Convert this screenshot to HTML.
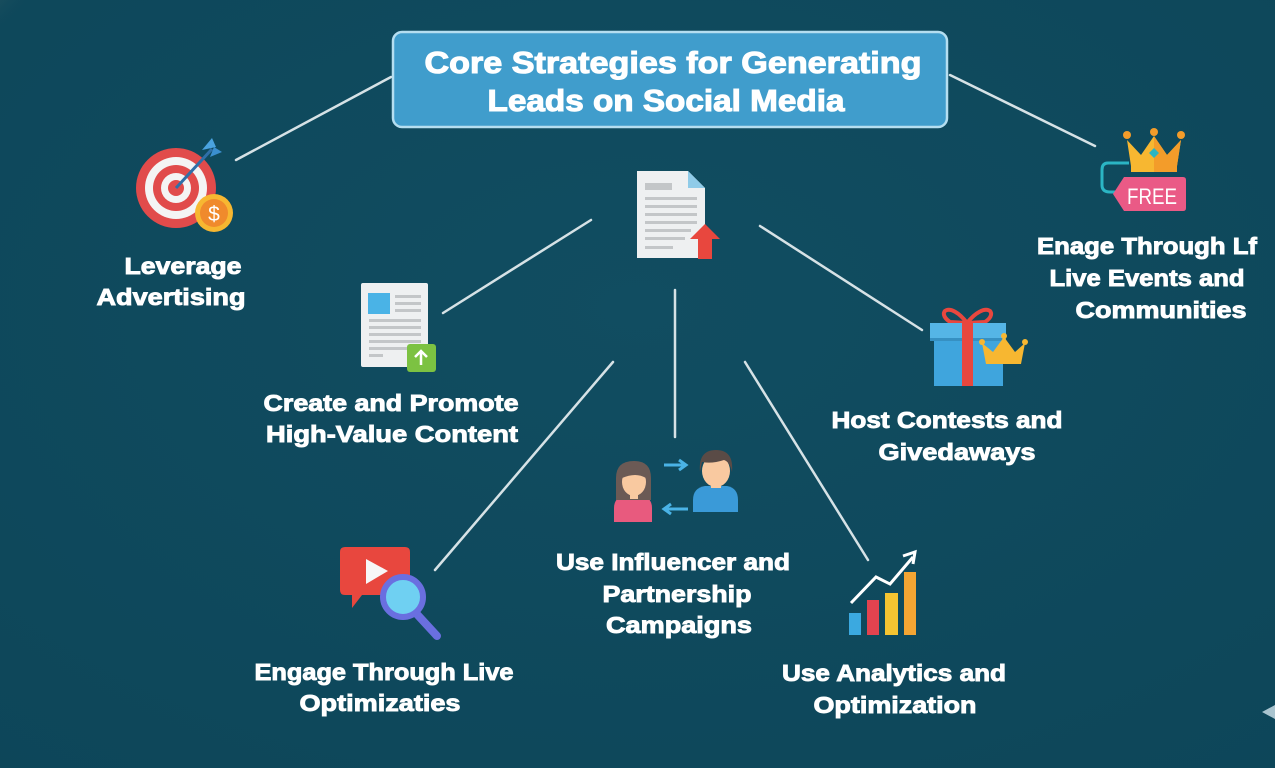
<!DOCTYPE html>
<html><head><meta charset="utf-8"><style>
html,body{margin:0;padding:0;background:#0f4a5e;}
svg{display:block;}
text{font-family:"Liberation Sans",sans-serif;font-weight:bold;fill:#ffffff;stroke:#ffffff;stroke-width:0.9;paint-order:stroke;}
text.thin{stroke:none;}
</style></head><body>
<svg width="1275" height="768" viewBox="0 0 1275 768" xmlns="http://www.w3.org/2000/svg">
<defs>
<radialGradient id="glow" cx="0" cy="0" r="1">
<stop offset="0" stop-color="#c9a27a" stop-opacity="0.9"/>
<stop offset="0.5" stop-color="#6b7a70" stop-opacity="0.3"/>
<stop offset="1" stop-color="#0f4a5e" stop-opacity="0"/>
</radialGradient>
<radialGradient id="bg" cx="0.5" cy="0.4" r="0.8">
<stop offset="0" stop-color="#114d61"/>
<stop offset="1" stop-color="#0d4659"/>
</radialGradient>
</defs>
<rect width="1275" height="768" fill="url(#bg)"/>
<circle cx="0" cy="0" r="45" fill="url(#glow)"/>
<polygon points="1262,712 1275,705 1275,719" fill="#a9c4cf"/>

<!-- connectors -->
<g stroke="#d6e2e6" stroke-width="2.5" stroke-linecap="round" fill="none">
<line x1="236" y1="160" x2="391" y2="77"/>
<line x1="950" y1="75" x2="1095" y2="146"/>
<line x1="443" y1="313" x2="591" y2="220"/>
<line x1="760" y1="226" x2="922" y2="330"/>
<line x1="675" y1="290" x2="675" y2="437"/>
<line x1="435" y1="570" x2="613" y2="362"/>
<line x1="745" y1="362" x2="868" y2="560"/>
</g>

<!-- title -->
<rect x="393" y="32" width="554" height="95" rx="9" fill="#409dcc" stroke="#b5def0" stroke-width="2.5"/>
<text x="673" y="73" font-size="31" text-anchor="middle" textLength="497" lengthAdjust="spacingAndGlyphs" style="stroke-width:1.1">Core Strategies for Generating</text>
<text x="666" y="111" font-size="31" text-anchor="middle" textLength="357" lengthAdjust="spacingAndGlyphs" style="stroke-width:1.1">Leads on Social Media</text>

<!-- target icon -->
<g>
<circle cx="176" cy="188" r="40" fill="#e14b4b"/>
<circle cx="176" cy="188" r="31" fill="#f4f4f4"/>
<circle cx="176" cy="188" r="23" fill="#e14b4b"/>
<circle cx="176" cy="188" r="15" fill="#f4f4f4"/>
<circle cx="176" cy="188" r="8" fill="#e14b4b"/>
<line x1="176" y1="188" x2="212" y2="149" stroke="#2f6fa8" stroke-width="3"/>
<polygon points="202,150 212,138 216,147" fill="#4aa3df"/>
<polygon points="210,157 222,152 214,147" fill="#3b8fcf"/>
<circle cx="214" cy="213" r="19" fill="#f7b731"/>
<circle cx="214" cy="213" r="14" fill="#f08a2c"/>
<text class="thin" x="214" y="221" font-size="21" text-anchor="middle" fill="#fff3d6" style="font-weight:normal">$</text>
</g>
<text x="183" y="274" font-size="23" text-anchor="middle" textLength="117" lengthAdjust="spacingAndGlyphs">Leverage</text>
<text x="171" y="305" font-size="23" text-anchor="middle" textLength="149" lengthAdjust="spacingAndGlyphs">Advertising</text>

<!-- crown FREE icon -->
<g>
<path d="M1127,140 L1141,155 L1154,136 L1167,155 L1181,140 L1177,166 L1131,166 Z" fill="#f7b731"/>
<path d="M1154,136 L1167,155 L1181,140 L1177,166 L1154,166 Z" fill="#f39c2a"/>
<circle cx="1127" cy="135" r="4" fill="#f39c2a"/>
<circle cx="1154" cy="132" r="4" fill="#f39c2a"/>
<circle cx="1181" cy="135" r="4" fill="#f39c2a"/>
<rect x="1131" y="159" width="46" height="13" fill="#f7b731"/>
<rect x="1154" y="159" width="23" height="13" fill="#f39c2a"/>
<polygon points="1154,148 1159,153 1154,158 1149,153" fill="#2bb5c4"/>
<path d="M1129,163 L1108,163 Q1102,163 1102,170 L1102,185 Q1102,192 1110,192 L1118,192" stroke="#2bb5c4" stroke-width="3" fill="none"/>
<path d="M1124,177 L1183,177 Q1186,177 1186,180 L1186,208 Q1186,211 1183,211 L1124,211 L1113,194 Z" fill="#ea5a86"/>
<text class="thin" x="1152" y="204" font-size="22" text-anchor="middle" fill="#ffd6e2" style="font-weight:normal" textLength="50" lengthAdjust="spacingAndGlyphs">FREE</text>
</g>
<text x="1147" y="254" font-size="23" text-anchor="middle" textLength="220" lengthAdjust="spacingAndGlyphs">Enage Through Lf</text>
<text x="1147" y="286" font-size="23" text-anchor="middle" textLength="195" lengthAdjust="spacingAndGlyphs">Live Events and</text>
<text x="1161" y="318" font-size="23" text-anchor="middle" textLength="171" lengthAdjust="spacingAndGlyphs">Communities</text>

<!-- top doc -->
<g>
<path d="M637,171 L688,171 L705,188 L705,258 L637,258 Z" fill="#eef0f1"/>
<path d="M688,171 L705,188 L688,188 Z" fill="#8fcbe8"/>
<rect x="645" y="183" width="27" height="7" fill="#c3c6c8"/>
<g fill="#c3c6c8">
<rect x="645" y="197" width="52" height="3"/>
<rect x="645" y="205" width="52" height="3"/>
<rect x="645" y="213" width="52" height="3"/>
<rect x="645" y="221" width="52" height="3"/>
<rect x="645" y="229" width="46" height="3"/>
<rect x="645" y="237" width="40" height="3"/>
<rect x="645" y="246" width="28" height="3"/>
</g>
<polygon points="705,224 720,239 712,239 712,259 698,259 698,239 690,239" fill="#e8473e"/>
</g>

<!-- left doc -->
<g>
<rect x="361" y="283" width="67" height="84" rx="2" fill="#eef0f1"/>
<rect x="368" y="293" width="22" height="21" fill="#4ab3e6"/>
<g fill="#c3c6c8">
<rect x="395" y="295" width="26" height="3"/>
<rect x="395" y="302" width="26" height="3"/>
<rect x="395" y="309" width="26" height="3"/>
<rect x="369" y="319" width="52" height="3"/>
<rect x="369" y="326" width="52" height="3"/>
<rect x="369" y="333" width="52" height="3"/>
<rect x="369" y="340" width="52" height="3"/>
<rect x="369" y="347" width="40" height="3"/>
<rect x="369" y="354" width="14" height="3"/>
</g>
<rect x="407" y="344" width="29" height="28" rx="3" fill="#7cc242"/>
<path d="M421,365 L421,352 M415,357 L421,351 L427,357" stroke="#fff" stroke-width="2.5" fill="none"/>
</g>
<text x="391" y="411" font-size="23" text-anchor="middle" textLength="255" lengthAdjust="spacingAndGlyphs">Create and Promote</text>
<text x="392" y="442" font-size="23" text-anchor="middle" textLength="252" lengthAdjust="spacingAndGlyphs">High-Value Content</text>

<!-- gift -->
<g>
<path d="M967,323 C950,300 935,312 950,322 Z" stroke="#e8473e" stroke-width="4" fill="none"/>
<path d="M967,323 C985,300 1000,312 985,322 Z" stroke="#e8473e" stroke-width="4" fill="none"/>
<rect x="934" y="338" width="69" height="48" fill="#3fa5dd"/>
<rect x="930" y="323" width="76" height="17" fill="#55b5e6"/>
<rect x="930" y="338" width="76" height="3" fill="#3690c2"/>
<rect x="962" y="323" width="11" height="63" fill="#e8473e"/>
<path d="M982,343 L993,352 L1004,337 L1015,352 L1025,343 L1021,364 L986,364 Z" fill="#f7b731"/>
<circle cx="982" cy="342" r="3" fill="#f7b731"/>
<circle cx="1004" cy="336" r="3" fill="#f7b731"/>
<circle cx="1025" cy="342" r="3" fill="#f7b731"/>
</g>
<text x="947" y="428" font-size="23" text-anchor="middle" textLength="231" lengthAdjust="spacingAndGlyphs">Host Contests and</text>
<text x="957" y="460" font-size="23" text-anchor="middle" textLength="157" lengthAdjust="spacingAndGlyphs">Givedaways</text>

<!-- people -->
<g>
<path d="M614,522 L614,508 Q614,497 626,495 L640,495 Q652,497 652,508 L652,522 Z" fill="#e85a7e"/>
<path d="M616,500 L616,478 Q616,461 634,461 Q651,461 651,478 L651,500 Z" fill="#6b5a55"/>
<ellipse cx="634" cy="482" rx="12" ry="14" fill="#f9c9a0"/>
<path d="M622,478 Q624,466 634,466 Q646,466 646,478 Q636,472 622,478 Z" fill="#6b5a55"/>
<rect x="630" y="494" width="8" height="5" fill="#f9c9a0"/>
<path d="M693,512 L693,500 Q693,488 705,486 L727,486 Q738,488 738,500 L738,512 Z" fill="#3a9ad8"/>
<ellipse cx="716" cy="471" rx="14" ry="16" fill="#f9c9a0"/>
<path d="M700,472 Q698,450 716,450 Q734,450 732,472 Q730,462 724,460 Q712,464 702,462 Z" fill="#5a4b46"/>
<rect x="711" y="483" width="10" height="5" fill="#f9c9a0"/>
<path d="M664,465 L684,465 M679,460 L686,465 L679,470" stroke="#4ab3e6" stroke-width="3" fill="none"/>
<path d="M688,509 L666,509 M671,504 L664,509 L671,514" stroke="#4ab3e6" stroke-width="3" fill="none"/>
</g>
<text x="673" y="570" font-size="23" text-anchor="middle" textLength="234" lengthAdjust="spacingAndGlyphs">Use Influencer and</text>
<text x="677" y="602" font-size="23" text-anchor="middle" textLength="149" lengthAdjust="spacingAndGlyphs">Partnership</text>
<text x="679" y="633" font-size="23" text-anchor="middle" textLength="146" lengthAdjust="spacingAndGlyphs">Campaigns</text>

<!-- video + magnifier -->
<g>
<path d="M345,547 L405,547 Q410,547 410,552 L410,590 Q410,595 405,595 L362,595 L352,608 L352,595 L345,595 Q340,595 340,590 L340,552 Q340,547 345,547 Z" fill="#e8473e"/>
<polygon points="366,559 366,584 388,571" fill="#f7f7f7"/>
<line x1="414" y1="611" x2="437" y2="636" stroke="#6a6fe0" stroke-width="8" stroke-linecap="round"/>
<circle cx="403" cy="597" r="20" fill="#6fd0f2" stroke="#6a6fe0" stroke-width="6"/>
</g>
<text x="384" y="680" font-size="23" text-anchor="middle" textLength="259" lengthAdjust="spacingAndGlyphs">Engage Through Live</text>
<text x="380" y="711" font-size="23" text-anchor="middle" textLength="161" lengthAdjust="spacingAndGlyphs">Optimizaties</text>

<!-- chart -->
<g>
<rect x="849" y="613" width="12" height="22" fill="#3ba9e0"/>
<rect x="867" y="600" width="12" height="35" fill="#e3434f"/>
<rect x="885" y="593" width="13" height="42" fill="#f5c431"/>
<rect x="904" y="572" width="12" height="63" fill="#f4a533"/>
<path d="M851,603 L876,577 L890,584 L913,557" stroke="#fff" stroke-width="3" fill="none"/>
<path d="M903,556 L915,552 L913,564" stroke="#fff" stroke-width="3" fill="none"/>
</g>
<text x="894" y="681" font-size="23" text-anchor="middle" textLength="224" lengthAdjust="spacingAndGlyphs">Use Analytics and</text>
<text x="895" y="713" font-size="23" text-anchor="middle" textLength="163" lengthAdjust="spacingAndGlyphs">Optimization</text>
</svg>
</body></html>
